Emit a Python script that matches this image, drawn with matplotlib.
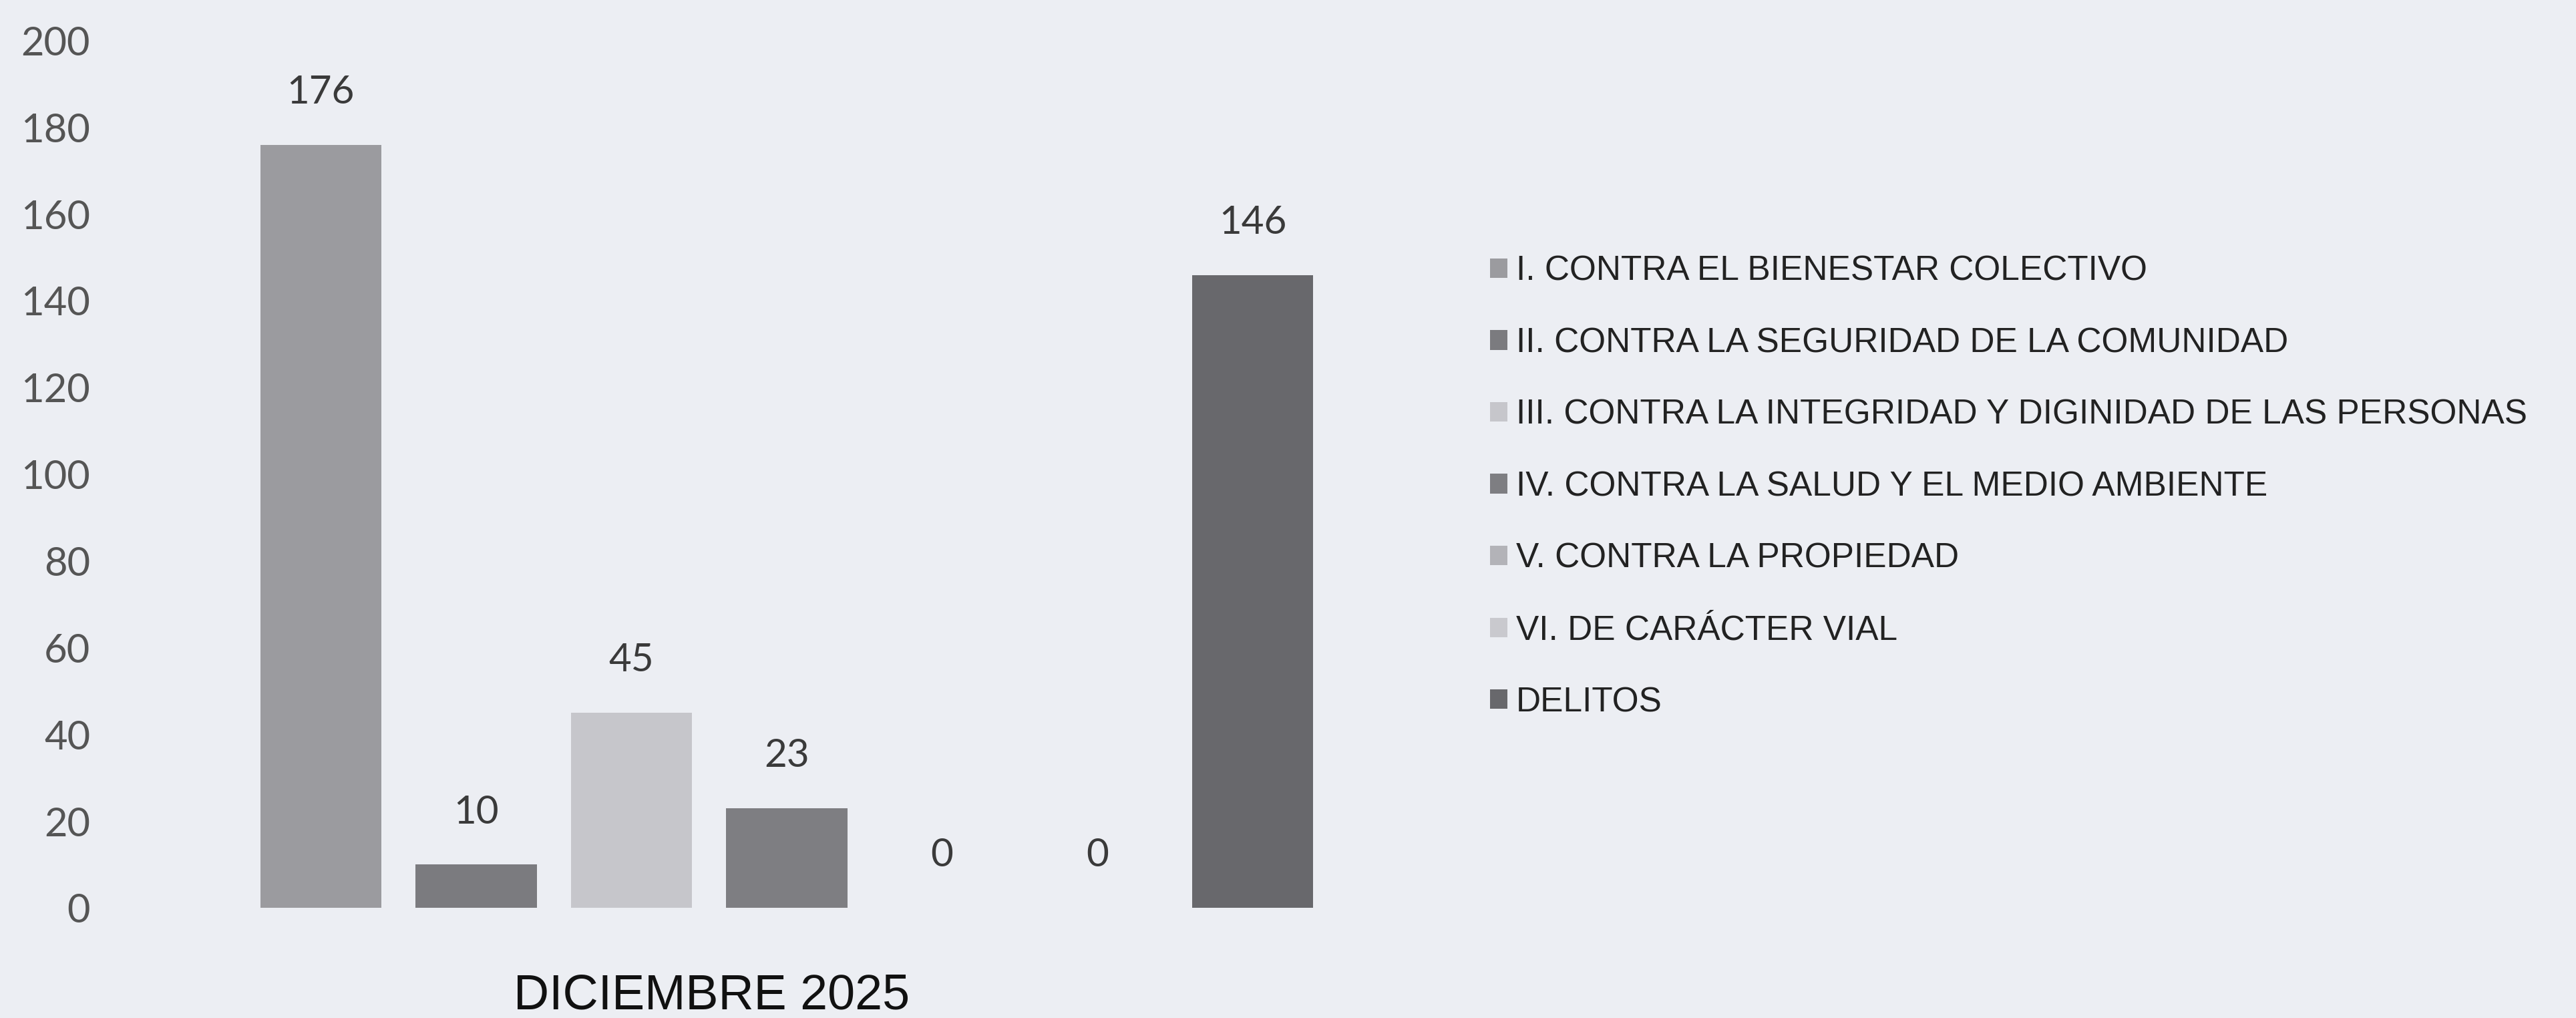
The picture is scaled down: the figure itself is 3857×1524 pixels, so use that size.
import matplotlib.pyplot as plt
import matplotlib as mpl
from matplotlib.patches import Patch

mpl.rcParams["figure.dpi"] = 100

# data
categories = [
    "I. CONTRA EL BIENESTAR COLECTIVO",
    "II. CONTRA LA SEGURIDAD DE LA COMUNIDAD",
    "III. CONTRA LA INTEGRIDAD Y DIGINIDAD DE LAS PERSONAS",
    "IV. CONTRA LA SALUD Y EL MEDIO AMBIENTE",
    "V. CONTRA LA PROPIEDAD",
    "VI. DE CARÁCTER VIAL",
    "DELITOS",
]
values = [176, 10, 45, 23, 0, 0, 146]
colors = ["#9b9b9f", "#7b7b7f", "#c6c6cb", "#7e7e82", "#b3b3b8", "#c9c9ce", "#68686c"]
period = "DICIEMBRE 2025"
yticks = [0, 20, 40, 60, 80, 100, 120, 140, 160, 180, 200]

bg = "#eceef3"
fig = plt.figure(figsize=(38.57, 15.24), facecolor=bg)
ax = fig.add_axes([0.048, 0.108, 0.507, 0.852])
ax.set_facecolor(bg)

x = list(range(len(values)))
ax.bar(x, values, width=0.78, color=colors)

for xi, v in zip(x, values):
    ax.text(xi, v + 8, str(v), ha="center", va="bottom",
            fontsize=42, color="#3a3a3a", family="Lato")

ax.set_ylim(0, 200)
ax.set_xlim(-1.27, 7.14)
ax.set_yticks(yticks)
ax.set_yticklabels([str(t) for t in yticks], family="Lato", fontsize=43, color="#555555")
ax.tick_params(axis="y", length=0, pad=36)
ax.set_xticks([])
for s in ax.spines.values():
    s.set_visible(False)

ax.set_xlabel(period, fontsize=53, family="Liberation Sans", color="#111111")
ax.xaxis.set_label_coords(0.45, -0.075)

handles = [Patch(facecolor=c, edgecolor="none") for c in colors]
leg = fig.legend(handles, categories, loc="upper left", bbox_to_anchor=(0.5665, 0.78),
                 frameon=False, handlelength=0.5, handleheight=0.5,
                 handletextpad=0.25, labelspacing=1.14,
                 prop={"family": "Liberation Sans", "size": 37})
for t in leg.get_texts():
    t.set_color("#222222")

fig.savefig("out.png", dpi=100, facecolor=bg)
